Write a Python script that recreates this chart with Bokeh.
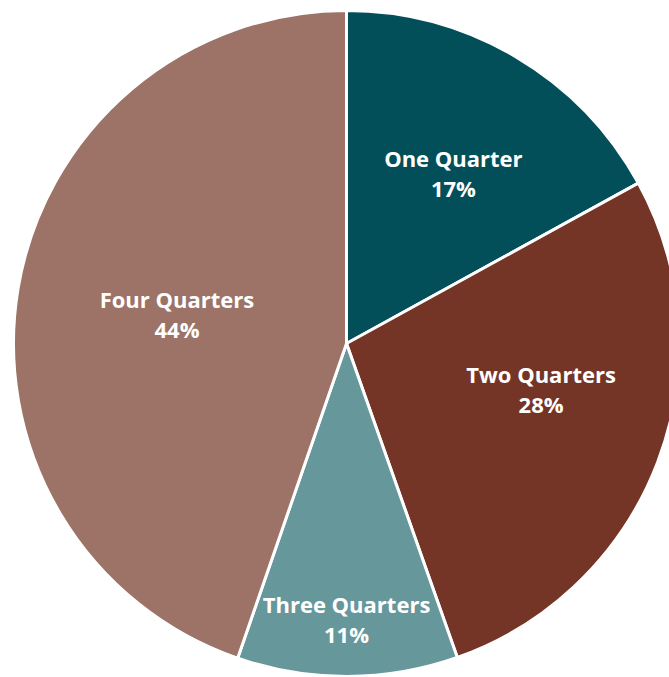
import math
from bokeh.plotting import figure
from bokeh.models import Range1d, ColumnDataSource
from bokeh.core.properties import value
from bokeh.embed import file_html
from bokeh.resources import INLINE

# ---- data ----
categories = ["One Quarter", "Two Quarters", "Three Quarters", "Four Quarters"]
shares = [17.0, 27.6, 10.7, 44.7]          # slice sizes
pct_labels = ["17%", "28%", "11%", "44%"]  # printed labels

# ---- style / layout ----
colors = ["#024F5A", "#753526", "#66979B", "#9C7366"]
CX, CY, R = 346, -343, 333            # pie centre & radius (page px, y negated)
label_r = [200, 200, 276, 172]         # label distance from centre
label_ang = [57.7, -13.4, -90.0, 170.3]  # label direction (deg, ccw from +x)

total = float(sum(shares))
starts, ends = [], []
cum = 0.0
for s in shares:
    starts.append(math.pi / 2 - 2 * math.pi * cum / total)
    cum += s
    ends.append(math.pi / 2 - 2 * math.pi * cum / total)

src = ColumnDataSource(dict(cat=categories, start=starts, end=ends, color=colors,
                            x=[CX] * 4, y=[CY] * 4))

p = figure(width=669, height=677, output_backend="svg", toolbar_location=None,
           x_range=Range1d(0, 669), y_range=Range1d(-677, 0), min_border=0,
           background_fill_color="white", border_fill_color="white")
p.axis.visible = False
p.xaxis.visible = False
p.yaxis.visible = False
p.grid.visible = False
p.outline_line_color = None

p.wedge(x="x", y="y", radius=R, start_angle="start", end_angle="end",
        direction="clock", fill_color="color", line_color="white",
        line_width=3, source=src)

lx = [CX + r * math.cos(math.radians(a)) for r, a in zip(label_r, label_ang)]
ly = [CY + r * math.sin(math.radians(a)) for r, a in zip(label_r, label_ang)]
lsrc = ColumnDataSource(dict(x=lx, y=ly, name=categories, pct=pct_labels))

common = dict(text_color="white", text_font=value("Open Sans"), text_font_style="bold",
              text_font_size="22px", text_align="center", text_baseline="alphabetic",
              source=lsrc)
p.text(x="x", y="y", text="name", y_offset=-16, **common)
p.text(x="x", y="y", text="pct", y_offset=14, **common)

open("out.html", "w").write(file_html(p, INLINE))
